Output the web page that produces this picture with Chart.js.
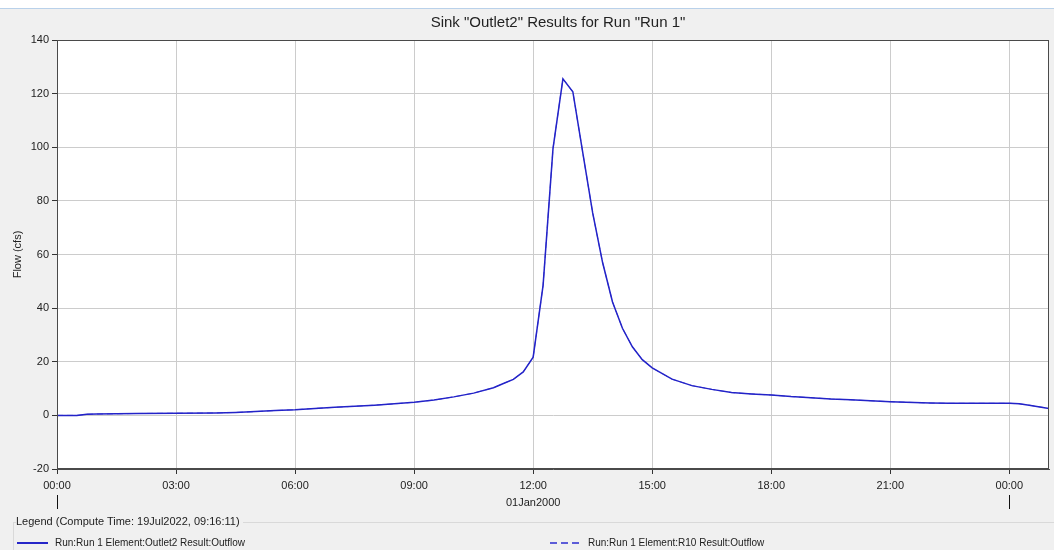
<!DOCTYPE html>
<html>
<head>
<meta charset="utf-8">
<script src="https://cdn.jsdelivr.net/npm/chart.js@4/dist/chart.umd.min.js"></script>
<style>
  html, body { margin: 0; padding: 0; }
  body { width: 1054px; height: 550px; background: #f0f0f0; position: relative; overflow: hidden;
         font-family: "Liberation Sans", Arial, sans-serif; color: #222; }
  #topband { position: absolute; left: 0; top: 0; width: 1054px; height: 8px; background: #ffffff; border-bottom: 1px solid #b9d1ea; }
  #wrap { position: absolute; left: 0; top: 0; width: 1054px; height: 550px; }
  #title { position: absolute; left: 57px; width: 1002px; top: 13px; text-align: center; font-size: 15px; color: #222; }
  #legendBox { position: absolute; left: 13px; top: 522px; width: 1041px; height: 30px;
               border-top: 1px solid #d9d9d9; border-left: 1px solid #d9d9d9; }
  #legendTitle { position: absolute; left: 16px; top: 515px; padding-right: 3px; background: #f0f0f0; font-size: 11px; color: #222; }
  .entry { position: absolute; top: 537px; font-size: 10px; color: #222; white-space: nowrap; }
  .swatch { position: absolute; top: 542px; width: 31px; height: 1.5px; }
</style>
</head>
<body>
<div id="topband"></div>
<div id="wrap"><canvas id="c" width="1054" height="550"></canvas></div>
<div id="title">Sink "Outlet2" Results for Run "Run 1"</div>
<div id="legendBox"></div>
<div id="legendTitle">Legend (Compute Time: 19Jul2022, 09:16:11)</div>
<div class="swatch" style="left:17px; background:#2626c8;"></div>
<div class="entry" style="left:55px;">Run:Run 1 Element:Outlet2 Result:Outflow</div>
<div class="swatch" style="left:550px; background:repeating-linear-gradient(to right, #5c5cd8 0 7px, transparent 7px 11px);"></div>
<div class="entry" style="left:588px;">Run:Run 1 Element:R10 Result:Outflow</div>
<script>
// Simulation time in hours from 01Jan2000 00:00
const hours = [0, 0.5, 0.75, 1, 2, 3, 4, 4.5, 5, 5.5, 6, 6.5, 7, 7.5, 8, 8.5, 9, 9.5, 10, 10.5,
  11, 11.25, 11.5, 11.75, 12, 12.25, 12.5, 12.75, 13, 13.25, 13.5, 13.75, 14, 14.25, 14.5, 14.75,
  15, 15.5, 16, 16.5, 17, 17.5, 18, 18.5, 19, 19.5, 20, 21, 22, 22.5, 23, 24, 24.25, 24.5, 25];

// Outflow (cfs) at sink Outlet2
const outlet2Flow = [0, 0, 0.4, 0.5, 0.7, 0.8, 0.9, 1.1, 1.4, 1.8, 2.1, 2.6, 3.0, 3.4, 3.8, 4.3, 4.9, 5.7, 6.9, 8.3,
  10.3, 11.9, 13.4, 16.2, 21.7, 48.5, 99.5, 125.5, 120.7, 98.0, 75.5, 57.0, 42.3, 32.5, 25.6, 20.8,
  17.7, 13.5, 11.1, 9.7, 8.5, 8.0, 7.6, 7.0, 6.6, 6.1, 5.8, 5.1, 4.6, 4.5, 4.5, 4.5, 4.3, 3.8, 2.6];

// Outflow (cfs) at reach R10
const r10Flow = [0, 0, 0.4, 0.5, 0.7, 0.8, 0.9, 1.1, 1.4, 1.8, 2.1, 2.6, 3.0, 3.4, 3.8, 4.3, 4.9, 5.7, 6.9, 8.3,
  10.3, 11.9, 13.4, 16.2, 21.7, 48.5, 99.5, 125.5, 120.7, 98.0, 75.5, 57.0, 42.3, 32.5, 25.6, 20.8,
  17.7, 13.5, 11.1, 9.7, 8.5, 8.0, 7.6, 7.0, 6.6, 6.1, 5.8, 5.1, 4.6, 4.5, 4.5, 4.5, 4.3, 3.8, 2.6];

const xTickHours = [0, 3, 6, 9, 12, 15, 18, 21, 24];
const xTickLabels = ['00:00', '03:00', '06:00', '09:00', '12:00', '15:00', '18:00', '21:00', '00:00'];
const dayBoundaries = [0, 24];
const dayLabelHour = 12;
const dayLabel = '01Jan2000';

const FONT = '"Liberation Sans", Arial, sans-serif';

const frame = {
  id: 'frame',
  beforeDraw(chart) {
    const { ctx, chartArea: a } = chart;
    ctx.save();
    ctx.fillStyle = '#ffffff';
    ctx.fillRect(a.left, a.top, a.right - a.left, a.bottom - a.top);
    ctx.restore();
  },
  afterDraw(chart) {
    const { ctx, chartArea: a, scales } = chart;
    ctx.save();
    ctx.strokeStyle = '#4a4a4a';
    ctx.lineWidth = 1;
    ctx.strokeRect(Math.round(a.left) + 0.5, Math.round(a.top) + 0.5,
                   Math.round(a.right - a.left) - 1, Math.round(a.bottom - a.top) - 1);
    // day boundary markers under the time labels
    ctx.strokeStyle = '#111';
    dayBoundaries.forEach(h => {
      const x = Math.round(scales.x.getPixelForValue(h)) + 0.5;
      ctx.beginPath();
      ctx.moveTo(x, a.bottom + 26);
      ctx.lineTo(x, a.bottom + 40);
      ctx.stroke();
    });
    ctx.fillStyle = '#222';
    ctx.font = '11px ' + FONT;
    ctx.textAlign = 'center';
    ctx.textBaseline = 'middle';
    ctx.fillText(dayLabel, scales.x.getPixelForValue(dayLabelHour), a.bottom + 34);
    ctx.restore();
  }
};

new Chart(document.getElementById('c'), {
  type: 'line',
  data: {
    datasets: [
      {
        label: 'Run:Run 1 Element:Outlet2 Result:Outflow',
        data: hours.map((h, i) => ({ x: h, y: outlet2Flow[i] })),
        borderColor: '#2323c8',
        borderWidth: 1.5,
        pointRadius: 0,
        tension: 0,
        order: 1
      },
      {
        label: 'Run:Run 1 Element:R10 Result:Outflow',
        data: hours.map((h, i) => ({ x: h, y: r10Flow[i] })),
        borderColor: '#6464dc',
        borderWidth: 1,
        borderDash: [6, 4],
        pointRadius: 0,
        tension: 0,
        order: 2
      }
    ]
  },
  options: {
    responsive: false,
    animation: false,
    devicePixelRatio: 1,
    layout: { padding: { top: 40, right: 5, bottom: 51, left: 0 } },
    plugins: { legend: { display: false }, title: { display: false }, tooltip: { enabled: false } },
    scales: {
      x: {
        type: 'linear',
        min: 0,
        max: 25,
        afterBuildTicks: s => { s.ticks = xTickHours.map(v => ({ value: v })); },
        afterFit: s => { s.height = 30; },
        grid: { color: '#cccccc', tickColor: '#333', tickLength: 5, drawOnChartArea: true },
        border: { color: '#4a4a4a' },
        ticks: {
          padding: 5,
          maxRotation: 0,
          autoSkip: false,
          color: '#222',
          font: { family: FONT, size: 11 },
          callback: v => xTickLabels[xTickHours.indexOf(v)]
        }
      },
      y: {
        min: -20,
        max: 140,
        afterFit: s => { s.width = 57; },
        grid: { color: '#cccccc', tickColor: '#333', tickLength: 5 },
        border: { color: '#4a4a4a' },
        ticks: { stepSize: 20, padding: 3, color: '#222', font: { family: FONT, size: 11 } },
        title: {
          display: true,
          text: 'Flow (cfs)',
          color: '#222',
          font: { family: FONT, size: 11 },
          padding: { top: 11, bottom: 0 }
        }
      }
    }
  },
  plugins: [frame]
});
</script>
</body>
</html>
